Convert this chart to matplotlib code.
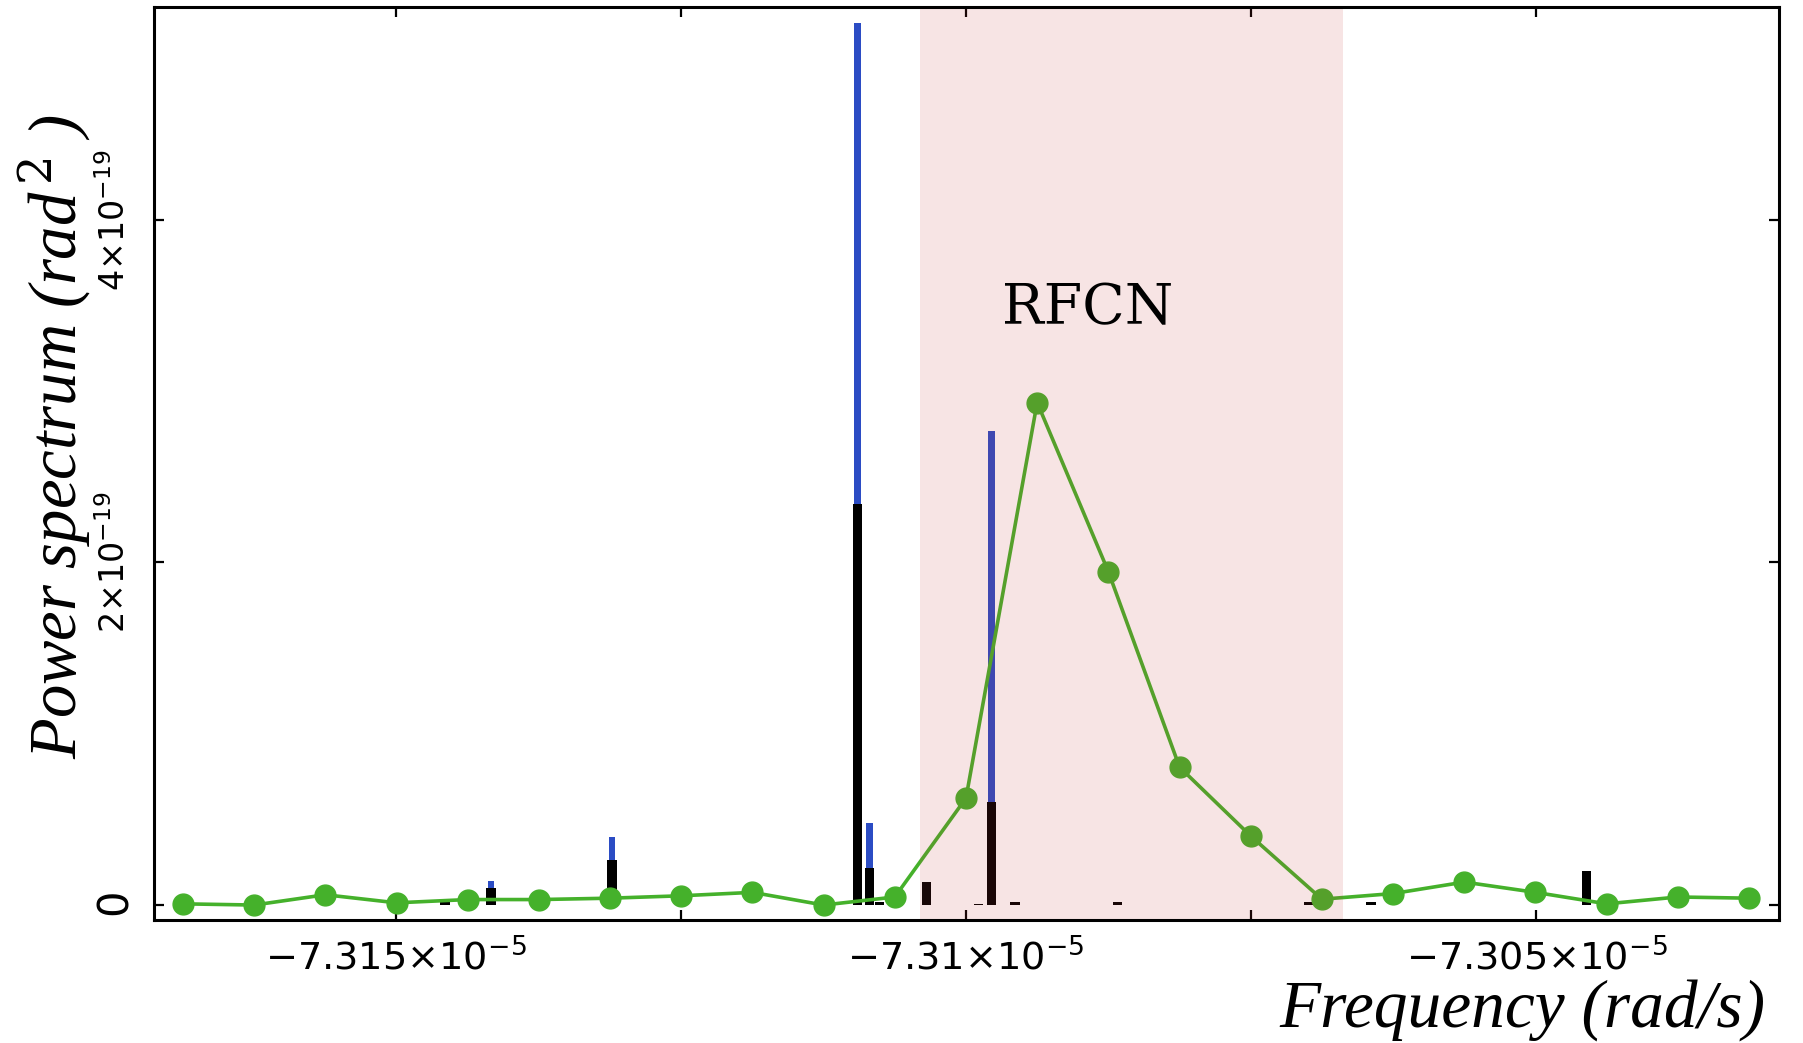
"""Power spectrum around the RFCN line: impulse spectra plus smoothed curve."""

import matplotlib

matplotlib.use("Agg")

import matplotlib.pyplot as plt  # noqa: E402
from matplotlib.ticker import FixedLocator, FuncFormatter  # noqa: E402
from matplotlib.transforms import ScaledTranslation  # noqa: E402

plt.rcParams["mathtext.fontset"] = "dejavuserif"

# --------------------------------------------------------------------------- #
# Data (frequency in rad/s, power in rad^2)
# --------------------------------------------------------------------------- #

# binned spectrum (green curve)
green_freq = [
    -7.316864e-5, -7.31624e-5, -7.315616e-5, -7.314992e-5, -7.314368e-5,
    -7.313744e-5, -7.31312e-5, -7.312496e-5, -7.311872e-5, -7.311248e-5,
    -7.310624e-5, -7.31e-5, -7.309376e-5, -7.308752e-5, -7.308128e-5,
    -7.307504e-5, -7.30688e-5, -7.306256e-5, -7.305632e-5, -7.305008e-5,
    -7.304384e-5, -7.30376e-5, -7.303136e-5,
]
green_power = [
    0.007e-19, 0.0, 0.06e-19, 0.013e-19, 0.032e-19, 0.032e-19, 0.04e-19,
    0.054e-19, 0.074e-19, 0.0, 0.047e-19, 0.624e-19, 2.933e-19, 1.946e-19,
    0.805e-19, 0.403e-19, 0.034e-19, 0.067e-19, 0.134e-19, 0.074e-19,
    0.007e-19, 0.047e-19, 0.04e-19,
]

# line spectrum, full amplitude (blue)
blue_freq = [-7.314164e-5, -7.313101e-5, -7.310951e-5, -7.310846e-5, -7.309776e-5]
blue_power = [0.142e-19, 0.40e-19, 5.146e-19, 0.477e-19, 2.766e-19]

# line spectrum, reduced amplitude (black)
black_freq = [
    -7.314567e-5, -7.314164e-5, -7.313101e-5, -7.310951e-5, -7.310846e-5,
    -7.310758e-5, -7.310346e-5, -7.30989e-5, -7.309776e-5, -7.30957e-5,
    -7.308672e-5, -7.306993e-5, -7.30645e-5, -7.304561e-5,
]
black_power = [
    0.022e-19, 0.097e-19, 0.26e-19, 2.342e-19, 0.214e-19, 0.02e-19, 0.134e-19,
    0.006e-19, 0.603e-19, 0.016e-19, 0.016e-19, 0.016e-19, 0.016e-19, 0.20e-19,
]

rfcn_band = (-7.310399e-5, -7.306693e-5)
rfcn_label_pos = (-7.308937e-5, 3.39e-19)

x_ticks = [-7.3175e-5, -7.315e-5, -7.3125e-5, -7.31e-5, -7.3075e-5, -7.305e-5]
x_labels = {-7.315e-5: "-7.315", -7.31e-5: "-7.31", -7.305e-5: "-7.305"}
y_ticks = [0.0, 2e-19, 4e-19]
y_labels = ["0", "2", "4"]

COLOR_GREEN = "#45b12b"
COLOR_BLUE = "#2b4cc4"
COLOR_BAND = "#c83232"


def _x_fmt(value, _pos):
    for tick, mant in x_labels.items():
        if abs(value - tick) < 1e-12:
            return r"$\mathsf{" + mant + r"{\times}10^{-5}}$"
    return ""


def _y_fmt(value, _pos):
    for tick, mant in zip(y_ticks, y_labels):
        if abs(value - tick) < 1e-25:
            if tick == 0:
                return r"$\mathsf{0}$"
            return r"$\mathsf{" + mant + r"{\times}10^{-19}}$"
    return ""


fig = plt.figure(figsize=(18.03, 10.43), dpi=100)
ax = fig.add_axes([0.0854, 0.1179, 0.9013, 0.8753])

ax.bar(blue_freq, blue_power, width=5.7e-10, color=COLOR_BLUE, zorder=2)
ax.bar(black_freq, black_power, width=8.3e-10, color="black", zorder=3)
ax.plot(
    green_freq,
    green_power,
    color=COLOR_GREEN,
    linewidth=2.6,
    marker="o",
    markersize=15,
    zorder=4,
)
ax.axvspan(*rfcn_band, color=COLOR_BAND, alpha=0.13, linewidth=0, zorder=5)
ax.text(
    *rfcn_label_pos,
    "RFCN",
    family="DejaVu Serif",
    fontsize=40,
    ha="center",
    va="baseline",
    zorder=6,
)

ax.set_xlim(-7.317118e-5, -7.302873e-5)
ax.set_ylim(-0.0875e-19, 5.241e-19)

ax.xaxis.set_major_locator(FixedLocator(x_ticks))
ax.xaxis.set_major_formatter(FuncFormatter(_x_fmt))
ax.yaxis.set_major_locator(FixedLocator(y_ticks))
ax.yaxis.set_major_formatter(FuncFormatter(_y_fmt))
ax.tick_params(
    direction="in", length=7, width=1.6, top=True, right=True, color="black"
)
ax.tick_params(axis="x", labelsize=27.5, pad=13)
ax.tick_params(axis="y", labelsize=24, pad=16)

ax.get_yticklabels()  # make sure tick texts are formatted
zero_shift = ScaledTranslation(0.06, 0, fig.dpi_scale_trans)
for tick in ax.yaxis.get_major_ticks():
    lab = tick.label1
    lab.set_rotation(90)
    lab.set_va("center")
    if lab.get_text() == r"$\mathsf{0}$":
        lab.set_fontsize(30)
        lab.set_transform(lab.get_transform() + zero_shift)

for spine in ax.spines.values():
    spine.set_linewidth(2.2)
    spine.set_zorder(7)

ax.set_xlabel(
    "Frequency (rad/s)",
    family="Liberation Serif",
    style="italic",
    fontsize=48.5,
    ha="right",
    va="baseline",
)
ax.xaxis.set_label_coords(0.9914, -0.117)
ax.set_ylabel(
    r"Power spectrum (rad$^{\,2}$ )",
    family="Liberation Serif",
    style="italic",
    fontsize=48,
    va="center",
)
ax.yaxis.set_label_coords(-0.0615, 0.530)

fig.savefig("out.png", dpi=100, facecolor="white")
